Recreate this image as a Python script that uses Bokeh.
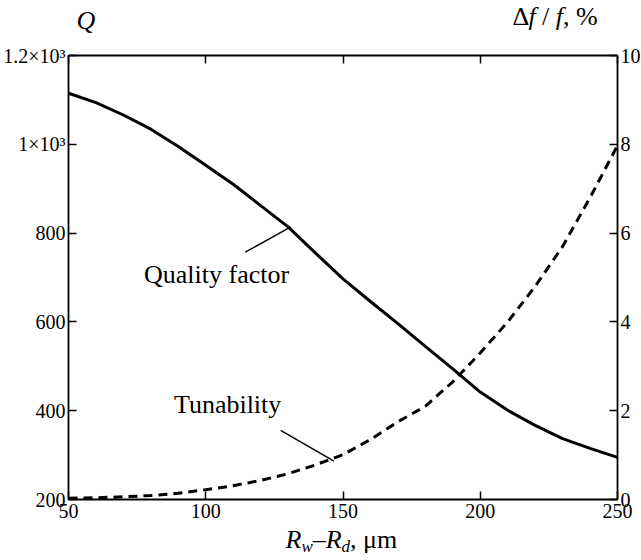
from bokeh.plotting import figure
from bokeh.models import Range1d, LinearAxis, FixedTicker, Label
from bokeh.embed import file_html
from bokeh.resources import INLINE

# ---- data ----
gap_um = [50, 60, 70, 80, 90, 100, 110, 120, 130, 140, 150,
          160, 170, 180, 190, 200, 210, 220, 230, 240, 250]
quality_factor = [1115, 1094, 1066, 1034, 995, 953, 910, 862, 814, 755, 697,
                  646, 596, 545, 494, 442, 401, 367, 337, 315, 295]
tunability_pct = [0.03, 0.04, 0.06, 0.09, 0.14, 0.22, 0.31, 0.43, 0.58, 0.78, 1.01,
                  1.35, 1.75, 2.10, 2.65, 3.30, 4.00, 4.80, 5.70, 6.80, 7.97]

x_ticks = [50, 100, 150, 200, 250]
q_ticks = [200, 400, 600, 800, 1000, 1200]
q_tick_labels = {200: "200", 400: "400", 600: "600", 800: "800",
                 1000: "1×10³", 1200: "1.2×10³"}
t_ticks = [0, 2, 4, 6, 8, 10]

X_MIN, X_MAX = 50, 250
Q_MIN, Q_MAX = 200, 1200
T_MIN, T_MAX = 0, 10

# ---- layout (pixels) ----
W, H = 640, 558
BOX_L, BOX_R, BOX_T, BOX_B = 68, 617, 55, 499

FONT = "Liberation Serif"
TICK_FS = "20px"
BIG_FS = "26px"
SUB_FS = "17px"
BIG_SHIFT = 9      # label anchor correction (px) for 26px text
SUB_SHIFT = 6      # same for 17px text

xs = (X_MAX - X_MIN) / (BOX_R - BOX_L)
qs = (Q_MAX - Q_MIN) / (BOX_B - BOX_T)
ts = (T_MAX - T_MIN) / (BOX_B - BOX_T)
x_range = Range1d(X_MIN - BOX_L * xs, X_MAX + (W - BOX_R) * xs)
q_range = Range1d(Q_MIN - (H - BOX_B) * qs, Q_MAX + BOX_T * qs)
t_range = Range1d(T_MIN - (H - BOX_B) * ts, T_MAX + BOX_T * ts)

p = figure(width=W, height=H, x_range=x_range, y_range=q_range,
           output_backend="svg", toolbar_location=None,
           x_axis_location=None, y_axis_location=None, min_border=0)
p.extra_y_ranges = {"t": t_range}
p.xgrid.visible = False
p.ygrid.visible = False
p.outline_line_color = None
p.background_fill_color = "white"
p.border_fill_color = "white"


def style_axis(ax):
    ax.axis_line_color = "black"
    ax.axis_line_width = 1.8
    ax.major_tick_line_color = "black"
    ax.major_tick_line_width = 1.5
    ax.major_tick_in = 8
    ax.major_tick_out = 0
    ax.minor_tick_line_color = None
    ax.major_label_text_font = FONT
    ax.major_label_text_font_size = TICK_FS
    ax.major_label_text_color = "black"


xa = LinearAxis(ticker=FixedTicker(ticks=x_ticks), fixed_location=Q_MIN,
                bounds=(X_MIN, X_MAX))
style_axis(xa)
xa.major_label_standoff = 4
p.add_layout(xa, "below")

ta = LinearAxis(ticker=FixedTicker(ticks=x_ticks), fixed_location=Q_MAX,
                bounds=(X_MIN, X_MAX))
style_axis(ta)
ta.major_label_overrides = {t: "" for t in x_ticks}
ta.major_label_standoff = 0
p.add_layout(ta, "above")

ya = LinearAxis(ticker=FixedTicker(ticks=q_ticks), fixed_location=X_MIN,
                bounds=(Q_MIN, Q_MAX))
ya.major_label_overrides = q_tick_labels
style_axis(ya)
ya.major_label_standoff = 3
p.add_layout(ya, "left")

ra = LinearAxis(y_range_name="t", ticker=FixedTicker(ticks=t_ticks),
                fixed_location=X_MAX, bounds=(T_MIN, T_MAX))
style_axis(ra)
ra.major_label_standoff = 3
p.add_layout(ra, "right")

p.line(gap_um, quality_factor, line_color="black", line_width=3)
p.line(gap_um, tunability_pct, y_range_name="t", line_color="black",
       line_width=3, line_dash="9 6")

p.line([114.4, 131.0], [757, 814], line_color="black", line_width=1.5)
p.line([127.3, 146.7], [355.5, 286.4], line_color="black", line_width=1.5)

p.add_layout(Label(x=77.5, y=686 + BIG_SHIFT * qs, text="Quality factor",
                   text_font=FONT, text_font_size=BIG_FS, text_color="black",
                   text_baseline="alphabetic"))
p.add_layout(Label(x=88.4, y=393 + BIG_SHIFT * qs, text="Tunability",
                   text_font=FONT, text_font_size=BIG_FS, text_color="black",
                   text_baseline="alphabetic"))


def piece(x, y_from_top, text, size=BIG_FS, style="normal"):
    shift = BIG_SHIFT if size == BIG_FS else SUB_SHIFT
    p.add_layout(Label(x=x, y=H - (y_from_top - shift),
                       x_units="screen", y_units="screen",
                       text=text, text_font=FONT, text_font_size=size,
                       text_font_style=style, text_color="black",
                       text_baseline="alphabetic", text_align="left"))


# left axis title "Q"
piece(76, 29, "Q", style="italic")

# right axis title "Δf / f, %"
x0, ty = 512, 25
piece(x0, ty, "Δ")
piece(x0 + 15.9, ty, "f", style="italic")
piece(x0 + 29.5, ty, "/")
piece(x0 + 43.3, ty, "f", style="italic")
piece(x0 + 50.5, ty, ", %")

# x axis title "R_w–R_d, μm"
bx, by = 285, 548
piece(bx, by, "R", style="italic")
piece(bx + 15.9, by + 4, "w", size=SUB_FS, style="italic")
piece(bx + 27.2, by, "–")
piece(bx + 40.2, by, "R", style="italic")
piece(bx + 56.1, by + 4, "d", size=SUB_FS, style="italic")
piece(bx + 64.6, by, ", μm")

open("out.html", "w").write(file_html(p, INLINE))
